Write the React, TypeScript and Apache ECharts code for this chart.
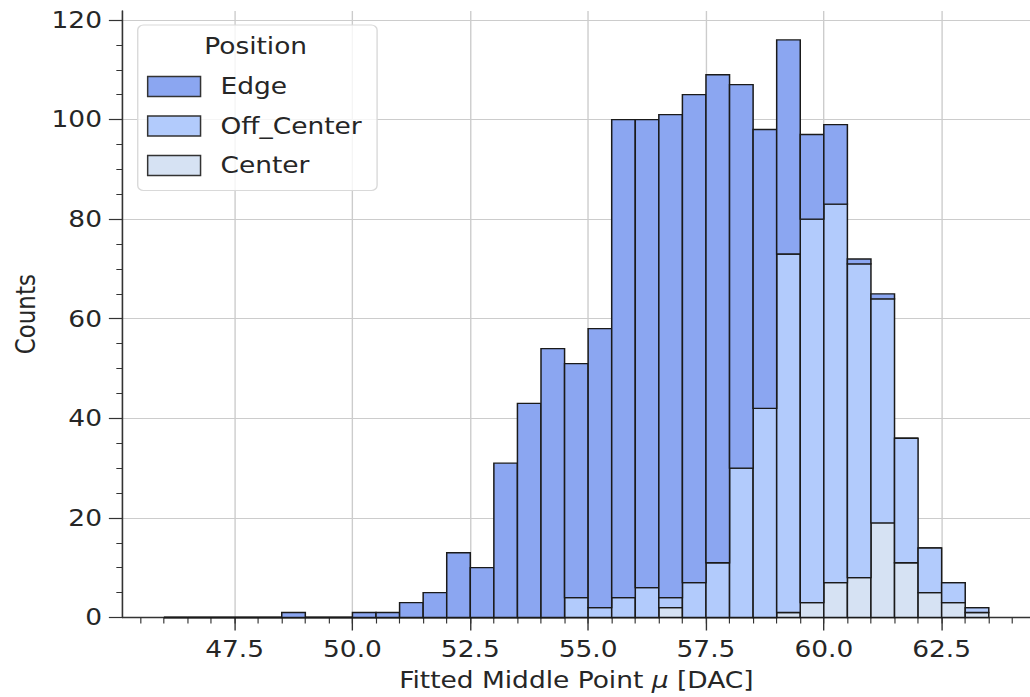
import React, { useEffect, useRef } from "react";
import * as echarts from "echarts";

// Histogram bin edges (36 edges -> 35 bins)
const binEdges = [
  46.0, 46.5, 47.0, 47.5, 48.0, 48.5, 49.0, 49.5, 50.0, 50.5, 51.0, 51.5,
  52.0, 52.5, 53.0, 53.5, 54.0, 54.5, 55.0, 55.5, 56.0, 56.5, 57.0, 57.5,
  58.0, 58.5, 59.0, 59.5, 60.0, 60.5, 61.0, 61.5, 62.0, 62.5, 63.0, 63.5,
];

// Counts per bin for each position class (stack order: Center, Off_Center, Edge)
const centerCounts = [
  0, 0, 0, 0, 0, 0, 0, 0, 0, 0, 0, 0, 0, 0, 0, 0, 0, 0, 0, 0, 0, 2, 0, 0, 0,
  0, 1, 3, 7, 8, 19, 11, 5, 3, 1,
];
const offCenterCounts = [
  0, 0, 0, 0, 0, 0, 0, 0, 0, 0, 0, 0, 0, 0, 0, 0, 0, 4, 2, 4, 6, 2, 7, 11, 30,
  42, 72, 77, 76, 63, 45, 25, 9, 4, 1,
];
const edgeCounts = [
  0, 0, 0, 0, 0, 1, 0, 0, 1, 1, 3, 5, 13, 10, 31, 43, 54, 47, 56, 96, 94, 97,
  98, 98, 77, 56, 43, 17, 16, 1, 1, 0, 0, 0, 0,
];

const seriesNames = ["Edge", "Off_Center", "Center"];

const xMajorTicks = [47.5, 50.0, 52.5, 55.0, 57.5, 60.0, 62.5];
const xMinorTicks = [
  45.5, 46.0, 46.5, 47.0, 47.5, 48.0, 48.5, 49.0, 49.5, 50.0, 50.5, 51.0,
  51.5, 52.0, 52.5, 53.0, 53.5, 54.0, 54.5, 55.0, 55.5, 56.0, 56.5, 57.0,
  57.5, 58.0, 58.5, 59.0, 59.5, 60.0, 60.5, 61.0, 61.5, 62.0, 62.5, 63.0,
  63.5, 64.0,
];
const yMajorTicks = [0, 20, 40, 60, 80, 100, 120];
const yMinorTicks = [
  5, 10, 15, 25, 30, 35, 45, 50, 55, 65, 70, 75, 85, 90, 95, 105, 110, 115,
];

const X_MIN = 45.125;
const X_MAX = 64.375;
const Y_MAX = 121.8;

const COLORS: Record<string, string> = {
  Edge: "#8ba6f1",
  Off_Center: "#b2cbfc",
  Center: "#d6e2f3",
};

const FONT = "DejaVu Sans";
const INK = "#262626";
// The figure is drawn slightly narrower and stretched horizontally to its final width
const STRETCH = 1.1496;

function stackRows(counts: number[], bases: number[]) {
  return counts.map((c, i) => [binEdges[i], binEdges[i + 1], bases[i], bases[i] + c]);
}

export default function App() {
  const ref = useRef<HTMLDivElement>(null);

  useEffect(() => {
    if (!ref.current) return;
    const chart = echarts.init(ref.current, null, { renderer: "svg" });

    const zeros = centerCounts.map(() => 0);
    const centerRows = stackRows(centerCounts, zeros);
    const offBase = centerRows.map((r) => r[3]);
    const offRows = stackRows(offCenterCounts, offBase);
    const edgeBase = offRows.map((r) => r[3]);
    const edgeRows = stackRows(edgeCounts, edgeBase);

    const renderBar = (fill: string) => (_params: any, api: any) => {
      const a = api.coord([api.value(0), api.value(3)]);
      const b = api.coord([api.value(1), api.value(2)]);
      return {
        type: "rect",
        shape: { x: a[0], y: a[1], width: b[0] - a[0], height: b[1] - a[1] },
        style: { fill, stroke: "#1a1a1a", lineWidth: 1.3 },
      };
    };

    const makeSeries = (name: string, rows: number[][]) => ({
      type: "custom",
      name,
      xAxisIndex: 0,
      yAxisIndex: 0,
      data: rows,
      encode: { x: [0, 1], y: [2, 3] },
      itemStyle: { color: COLORS[name] },
      renderItem: renderBar(COLORS[name]),
      silent: true,
    });

    const tickLabel = { fontSize: 23, fontFamily: FONT, color: INK };

    chart.setOption({
      animation: false,
      backgroundColor: "#ffffff",
      grid: { left: 106.7, top: 11, width: 791.6, height: 610 },
      xAxis: [
        {
          type: "value",
          min: X_MIN,
          max: X_MAX,
          name: "Fitted Middle Point {it|μ} [DAC]",
          nameLocation: "middle",
          nameGap: 51.5,
          nameTextStyle: {
            fontSize: 23,
            fontFamily: FONT,
            color: INK,
            rich: { it: { fontSize: 23, fontFamily: FONT, fontStyle: "italic", color: INK } },
          },
          axisLine: { show: true, onZero: false, lineStyle: { color: "#333", width: 1.4 } },
          axisTick: {
            show: true,
            customValues: xMajorTicks,
            length: 13,
            lineStyle: { color: "#333", width: 1.2 },
          },
          axisLabel: {
            ...tickLabel,
            customValues: xMajorTicks,
            margin: 20,
            formatter: (v: number) => v.toFixed(1),
          },
          splitLine: { show: true, lineStyle: { color: "#cccccc", width: 1.2 } },
        },
        {
          type: "value",
          min: X_MIN,
          max: X_MAX,
          position: "bottom",
          axisLine: { show: false },
          axisTick: {
            show: true,
            customValues: xMinorTicks,
            length: 6,
            lineStyle: { color: "#333", width: 1 },
          },
          axisLabel: { show: false },
          splitLine: { show: false },
        },
      ],
      yAxis: [
        {
          type: "value",
          min: 0,
          max: Y_MAX,
          name: "Counts",
          nameLocation: "middle",
          nameGap: 68,
          nameTextStyle: { fontSize: 23, fontFamily: FONT, color: INK },
          axisLine: { show: true, onZero: false, lineStyle: { color: "#333", width: 1.4 } },
          axisTick: {
            show: true,
            customValues: yMajorTicks,
            length: 12,
            lineStyle: { color: "#333", width: 1.2 },
          },
          axisLabel: { ...tickLabel, customValues: yMajorTicks, margin: 18 },
          splitLine: { show: true, lineStyle: { color: "#cccccc", width: 1.2 } },
        },
        {
          type: "value",
          min: 0,
          max: Y_MAX,
          position: "left",
          axisLine: { show: false },
          axisTick: {
            show: true,
            customValues: yMinorTicks,
            length: 5.5,
            lineStyle: { color: "#333", width: 1 },
          },
          axisLabel: { show: false },
          splitLine: { show: false },
        },
      ],
      legend: {
        orient: "vertical",
        left: 119.8,
        top: 25,
        padding: [50, 13.3, 13.5, 8],
        itemWidth: 46,
        itemHeight: 20,
        itemGap: 16.5,
        icon: "rect",
        backgroundColor: "rgba(255,255,255,0.8)",
        borderColor: "#d9d9d9",
        borderWidth: 1.2,
        borderRadius: 5,
        selectedMode: false,
        textStyle: {
          fontSize: 23,
          fontFamily: FONT,
          color: INK,
          padding: [0, 0, 0, 12.4],
        },
        data: seriesNames.map((n) => ({
          name: n,
          itemStyle: { color: COLORS[n], borderColor: "#333", borderWidth: 1.3 },
        })),
      },
      graphic: [
        {
          type: "text",
          x: 222.4,
          y: 46.5,
          z: 100,
          style: {
            text: "Position",
            fontSize: 23,
            fontFamily: FONT,
            fill: INK,
            align: "center",
            verticalAlign: "middle",
          },
        },
      ],
      series: [
        makeSeries("Center", centerRows),
        makeSeries("Off_Center", offRows),
        makeSeries("Edge", edgeRows),
      ],
    });

    return () => chart.dispose();
  }, []);

  return (
    <div
      style={{
        position: "fixed",
        left: 0,
        top: 0,
        width: 1030,
        height: 697,
        overflow: "hidden",
        background: "#ffffff",
      }}
    >
      <div
        ref={ref}
        style={{
          width: 896,
          height: 697,
          transform: `scaleX(${STRETCH})`,
          transformOrigin: "0 0",
        }}
      />
    </div>
  );
}
